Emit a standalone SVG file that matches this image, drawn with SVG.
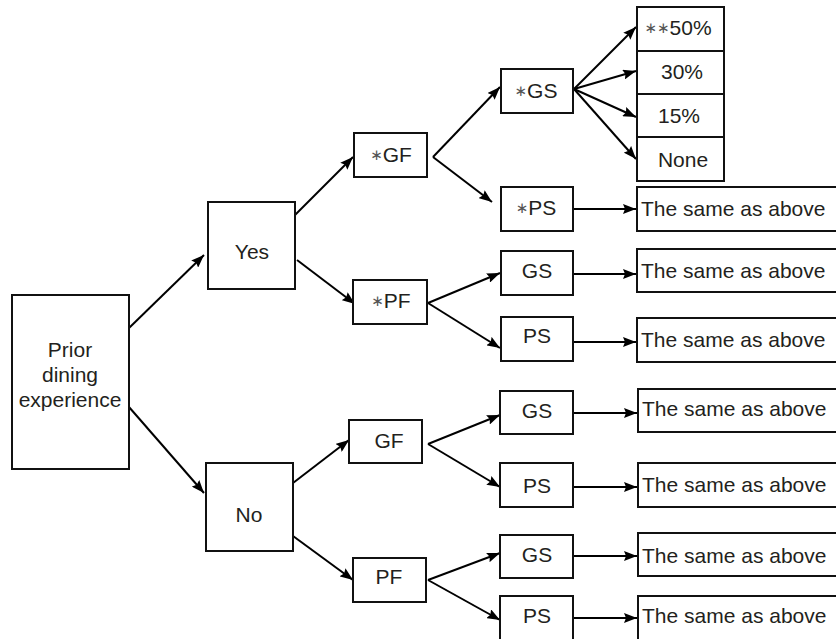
<svg xmlns="http://www.w3.org/2000/svg" width="836" height="639" viewBox="0 0 836 639">
<style>
.box{fill:#fff;stroke:#111;stroke-width:2}
.t{font-family:"Liberation Sans",Arial,sans-serif;font-size:21px;fill:#231f20;text-anchor:middle}
.tl{font-family:"Liberation Sans",Arial,sans-serif;font-size:21px;fill:#231f20}
.ast{font-family:"DejaVu Sans",sans-serif;font-size:15px;fill:#555}
#connectors path{stroke:#000;stroke-width:2;fill:none;marker-end:url(#arr)}
</style>
<defs>
<marker id="arr" viewBox="0 0 13 10" refX="13" refY="5" markerUnits="userSpaceOnUse" markerWidth="13" markerHeight="10" orient="auto">
<path d="M0,0 L13,5 L0,10 L2,5 z" fill="#000"/>
</marker>
</defs>
<rect width="836" height="639" fill="#fff"/>
<g id="connectors">
<path d="M129,328 L204,255"/>
<path d="M129,407 L204,493"/>
<path d="M295,215 L353,157"/>
<path d="M297,260 L355,304"/>
<path d="M433,157 L500,87"/>
<path d="M433,157 L492,202"/>
<path d="M574,89 L636,27"/>
<path d="M574,89 L636,71"/>
<path d="M574,89 L636,117"/>
<path d="M574,89 L636,159"/>
<path d="M573,209 L636,209"/>
<path d="M428,303 L500,273"/>
<path d="M428,303 L500,348"/>
<path d="M573,274 L636,274"/>
<path d="M573,342 L636,342"/>
<path d="M293,483 L349,440"/>
<path d="M293,536 L353,580"/>
<path d="M428,444 L500,415"/>
<path d="M428,444 L500,487"/>
<path d="M573,413 L637,413"/>
<path d="M573,487 L637,487"/>
<path d="M428,580 L500,553"/>
<path d="M428,580 L500,620"/>
<path d="M573,556 L637,556"/>
<path d="M573,618 L637,618"/>
</g>
<g id="prior"><rect class="box" x="12" y="295" width="117" height="174"/>
<text class="t" x="70" y="357">Prior</text><text class="t" x="70" y="382">dining</text><text class="t" x="70" y="407">experience</text></g>
<g id="yes"><rect class="box" x="208" y="202" width="87" height="87"/><text class="t" x="252" y="259">Yes</text></g>
<g id="no"><rect class="box" x="206" y="463" width="87" height="88"/><text class="t" x="249" y="522">No</text></g>
<g id="yes-gf"><rect class="box" x="354" y="133" width="73" height="44"/><text class="t" x="391" y="162"><tspan class="ast" dy="-2">∗</tspan><tspan dy="2">GF</tspan></text></g>
<g id="yes-pf"><rect class="box" x="353" y="280" width="74" height="44"/><text class="t" x="391" y="308"><tspan class="ast" dy="-2">∗</tspan><tspan dy="2">PF</tspan></text></g>
<g id="no-gf"><rect class="box" x="349" y="420" width="73" height="43"/><text class="t" x="389" y="448">GF</text></g>
<g id="no-pf"><rect class="box" x="353" y="558" width="73" height="44"/><text class="t" x="389" y="584">PF</text></g>
<g id="yes-gf-gs"><rect class="box" x="501" y="69" width="72" height="44"/><text class="t" x="536" y="98"><tspan class="ast" dy="-2">∗</tspan><tspan dy="2">GS</tspan></text></g>
<g id="yes-gf-ps"><rect class="box" x="501" y="187" width="72" height="44"/><text class="t" x="536" y="215"><tspan class="ast" dy="-2">∗</tspan><tspan dy="2">PS</tspan></text></g>
<g id="yes-pf-gs"><rect class="box" x="501" y="251" width="72" height="44"/><text class="t" x="537" y="278">GS</text></g>
<g id="yes-pf-ps"><rect class="box" x="501" y="317" width="72" height="44"/><text class="t" x="537" y="343">PS</text></g>
<g id="no-gf-gs"><rect class="box" x="500" y="391" width="73" height="43"/><text class="t" x="537" y="418">GS</text></g>
<g id="no-gf-ps"><rect class="box" x="500" y="463" width="73" height="44"/><text class="t" x="537" y="493">PS</text></g>
<g id="no-pf-gs"><rect class="box" x="500" y="535" width="73" height="43"/><text class="t" x="537" y="562">GS</text></g>
<g id="no-pf-ps"><rect class="box" x="500" y="596" width="73" height="46"/><text class="t" x="537" y="623">PS</text></g>
<g id="pct-50"><rect class="box" x="637" y="7" width="87" height="44"/><text class="t" x="678" y="35"><tspan class="ast" dy="-2">∗∗</tspan><tspan dy="2">50%</tspan></text></g>
<g id="pct-30"><rect class="box" x="637" y="51" width="87" height="43"/><text class="t" x="682" y="79">30%</text></g>
<g id="pct-15"><rect class="box" x="637" y="94" width="87" height="43"/><text class="t" x="679" y="123">15%</text></g>
<g id="pct-none"><rect class="box" x="637" y="137" width="87" height="44"/><text class="t" x="683" y="167">None</text></g>
<g id="same-1"><rect class="box" x="637" y="187" width="210" height="44"/><text class="tl" x="641" y="216">The same as above</text></g>
<g id="same-2"><rect class="box" x="637" y="249" width="210" height="43"/><text class="tl" x="641" y="278">The same as above</text></g>
<g id="same-3"><rect class="box" x="637" y="318" width="210" height="44"/><text class="tl" x="641" y="347">The same as above</text></g>
<g id="same-4"><rect class="box" x="638" y="389" width="210" height="43"/><text class="tl" x="642" y="416">The same as above</text></g>
<g id="same-5"><rect class="box" x="638" y="463" width="210" height="44"/><text class="tl" x="642" y="492">The same as above</text></g>
<g id="same-6"><rect class="box" x="638" y="533" width="210" height="43"/><text class="tl" x="642" y="563">The same as above</text></g>
<g id="same-7"><rect class="box" x="638" y="596" width="210" height="50"/><text class="tl" x="642" y="623">The same as above</text></g>
</svg>
